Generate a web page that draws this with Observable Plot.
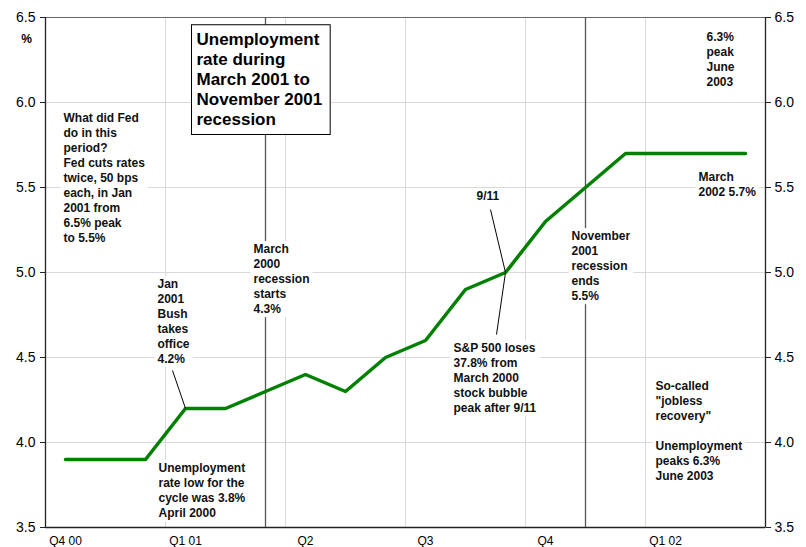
<!DOCTYPE html>
<html><head><meta charset="utf-8">
<script src="https://cdn.jsdelivr.net/npm/d3@7"></script>
<script src="https://cdn.jsdelivr.net/npm/@observablehq/plot@0.6"></script>
<style>
body{margin:0;background:#fff;}
#chart svg{display:block;}
</style></head><body><div id="chart"></div>
<script>
// ---- data ----
const months = ["Oct 00","Nov 00","Dec 00","Jan 01","Feb 01","Mar 01","Apr 01","May 01","Jun 01","Jul 01","Aug 01","Sep 01","Oct 01","Nov 01","Dec 01","Jan 02","Feb 02","Mar 02"];
const rates = [3.9,3.9,3.9,4.2,4.2,4.3,4.4,4.3,4.5,4.6,4.9,5.0,5.3,5.5,5.7,5.7,5.7,5.7];
const quarterTickMonths = ["Oct 00","Jan 01","Apr 01","Jul 01","Oct 01","Jan 02"];
const quarterTickLabels = ["Q4 00","Q1 01","Q2","Q3","Q4","Q1 02"];
const yTicks = [3.5,4.0,4.5,5.0,5.5,6.0,6.5];
const recessionMonths = ["Mar 01","Nov 01"];
const titleText = "Unemployment\nrate during\nMarch 2001 to\nNovember 2001\nrecession";
const titleAt = [3.275, 6.4];
const noteTexts = [
  "What did Fed\ndo in this\nperiod?\nFed cuts rates\ntwice, 50 bps\neach, in Jan\n2001 from\n6.5% peak\nto 5.5%",
  "Jan\n2001\nBush\ntakes\noffice\n4.2%",
  "March\n2000\nrecession\nstarts\n4.3%",
  "9/11",
  "S&P 500 loses\n37.8% from\nMarch 2000\nstock bubble\npeak after 9/11",
  "November\n2001\nrecession\nends\n5.5%",
  "6.3%\npeak\nJune\n2003",
  "March\n2002 5.7%",
  "Unemployment\nrate low for the\ncycle was 3.8%\nApril 2000",
  "So-called\n\"jobless\nrecovery\"\n\nUnemployment\npeaks 6.3%\nJune 2003"
];
// anchor of each note (month index, rate) - top-left of the text block
const noteX = [-0.05, 2.3, 4.7, 10.275, 9.7, 12.65, 16.025, 15.825, 2.325, 14.75];
const noteY = [5.935, 4.959, 5.165, 5.476, 4.582, 5.241, 6.412, 5.588, 3.876, 4.359];
// leader lines (month index, rate)
const leaderX1 = [2.675, 10.625, 11];
const leaderY1 = [4.4235, 5.37, 5.0];
const leaderX2 = [3, 11, 10.775];
const leaderY2 = [4.2, 5.0, 4.635];

// ---- derived tables ----
const series = months.map((m, i) => ({i, m, v: rates[i]}));
const tickIdx = quarterTickMonths.map(m => months.indexOf(m));
const gridIdx = tickIdx.slice(1).map(i => i - 0.5);
const recIdx = recessionMonths.map(m => months.indexOf(m));
const notes = noteTexts.map((t, k) => ({t, x: noteX[k], y: noteY[k]}));
const leaders = leaderX1.map((_, k) => ({x1: leaderX1[k], y1: leaderY1[k], x2: leaderX2[k], y2: leaderY2[k]}));
const xMin = -0.5, xMax = months.length - 0.5;

const font = "Liberation Sans, Arial, Helvetica, sans-serif";

const chart = Plot.plot({
  width: 806, height: 547,
  marginLeft: 45, marginRight: 41, marginTop: 17, marginBottom: 20,
  style: {fontFamily: font, background: "#fff", color: "#000"},
  x: {domain: [xMin, xMax], axis: null},
  y: {domain: [3.5, 6.5], axis: null},
  marks: [
    Plot.gridY(yTicks, {stroke: "#d9d9d9", strokeOpacity: 1}),
    Plot.gridX(gridIdx, {stroke: "#d9d9d9", strokeOpacity: 1}),
    Plot.frame({stroke: "#666"}),
    Plot.ruleX([xMin, xMax], {stroke: "#222", strokeWidth: 1.3}),
    Plot.ruleY([3.5], {stroke: "#222", strokeWidth: 1.3}),
    Plot.ruleX(recIdx, {stroke: "#555", strokeWidth: 1.3}),
    Plot.axisY(yTicks, {anchor: "left", tickFormat: d3.format(".1f"), fontSize: 14, tickSize: 5, tickPadding: 5, stroke: "#222", label: null}),
    Plot.axisY(yTicks, {anchor: "right", tickFormat: d3.format(".1f"), fontSize: 14, tickSize: 5, tickPadding: 4, stroke: "#222", label: null}),
    Plot.axisX(tickIdx, {anchor: "bottom", tickFormat: (d) => quarterTickLabels[tickIdx.indexOf(d)], fontSize: 12, tickSize: 0, tickPadding: 9, label: null}),
    Plot.text(["%"], {frameAnchor: "top-left", dx: -19, dy: 17, fontWeight: "bold", fontSize: 12, textAnchor: "middle"}),
    Plot.line(series, {x: "i", y: "v", stroke: "#008000", strokeWidth: 3.5}),
    Plot.link(leaders, {x1: "x1", y1: "y1", x2: "x2", y2: "y2", stroke: "#000", strokeWidth: 1}),
    Plot.text(notes, {x: "x", y: "y", text: "t", dy: -2, className: "note", fontSize: 12, fontWeight: "bold", textAnchor: "start", lineAnchor: "top", lineHeight: 1.25, fill: "#111"}),
    Plot.text([titleText], {x: () => titleAt[0], y: () => titleAt[1], text: d => d, dy: -4, className: "titlenote", fontSize: 17, fontWeight: "bold", textAnchor: "start", lineAnchor: "top", lineHeight: 1.18, fill: "#000"})
  ]
});
document.getElementById("chart").appendChild(chart);

// white boxes behind notes, bordered box behind title
function boxes(cls, pad, stroke) {
  chart.querySelectorAll("g." + cls + " text").forEach(t => {
    const b = t.getBBox();
    const r = document.createElementNS("http://www.w3.org/2000/svg", "rect");
    r.setAttribute("x", b.x - pad[3]);
    r.setAttribute("y", b.y - pad[0]);
    r.setAttribute("width", b.width + pad[1] + pad[3]);
    r.setAttribute("height", b.height + pad[0] + pad[2]);
    r.setAttribute("fill", "#fff");
    if (stroke) { r.setAttribute("stroke", stroke); r.setAttribute("stroke-width", 1); }
    const tr = t.getAttribute("transform");
    if (tr) r.setAttribute("transform", tr);
    t.parentNode.insertBefore(r, t);
  });
}
boxes("note", [1, 3, 1, 3], null);
boxes("titlenote", [5, 8, 5.5, 5], "#000");
</script>
</body></html>
